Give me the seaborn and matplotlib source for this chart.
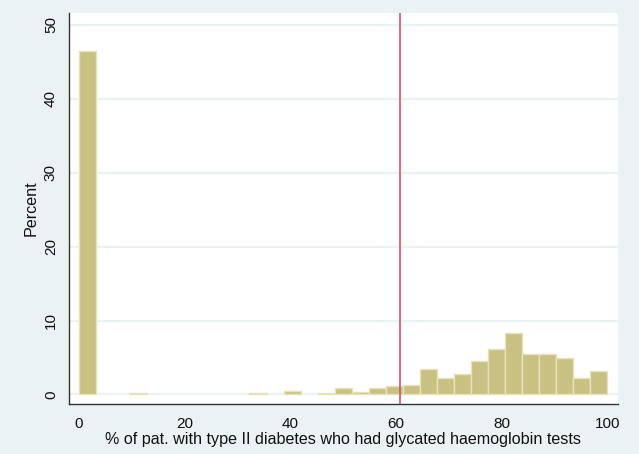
import numpy as np
import pandas as pd
import seaborn as sns
import matplotlib.pyplot as plt

# percent of practices per bin (31 equal bins from 0 to 100)
n_bins = 31
pct = [46.5, 0, 0, 0.2, 0, 0, 0, 0, 0, 0,
       0.2, 0, 0.4, 0, 0.2, 0.9, 0.37, 0.85, 1.08, 1.22,
       3.43, 2.17, 2.71, 4.56, 6.18, 8.26, 5.46, 5.46, 4.96, 2.17,
       3.11]
ref_line = 60.8
x_ticks = [0, 20, 40, 60, 80, 100]
y_ticks = [0, 10, 20, 30, 40, 50]

sns.set_style('white')
plt.rcParams['font.family'] = ['Liberation Sans', 'DejaVu Sans']

bg = '#EAF2F3'
fig = plt.figure(figsize=(6.39, 4.54), dpi=100, facecolor=bg)
ax = fig.add_axes([0.108, 0.110, 0.859, 0.861])
ax.set_facecolor('white')

width = 100 / n_bins
df = pd.DataFrame({'x': (np.arange(n_bins) + 0.5) * width, 'pct': pct})
sns.histplot(data=df, x='x', weights='pct', binwidth=width, binrange=(0, 100),
             stat='count', color='#C9C181', edgecolor='#E6E2BD', linewidth=1.0,
             alpha=1, ax=ax, zorder=2)
# empty bins draw nothing
for p in ax.patches:
    if p.get_height() == 0:
        p.set_visible(False)

ax.axvline(ref_line, color='#D6506F', lw=1.2, zorder=3)

ax.set_xlim(-1.9, 102.0)
ax.set_ylim(-1.3, 51.6)
ax.set_xticks(x_ticks)
ax.set_yticks(y_ticks)
ax.yaxis.grid(True, color=bg, lw=1.5, zorder=0)
ax.set_axisbelow(True)

for s in ['top', 'right']:
    ax.spines[s].set_visible(False)
for s in ['left', 'bottom']:
    ax.spines[s].set_color('#333333')
    ax.spines[s].set_linewidth(1.0)

ax.tick_params(axis='both', direction='out', length=5, width=1,
               color='#333333', labelsize=11, labelcolor='#111111', pad=3)
ax.tick_params(axis='x', pad=4)
plt.setp(ax.get_yticklabels(), rotation=90, va='center')

ax.set_xlabel('% of pat. with type II diabetes who had glycated haemoglobin tests',
              fontsize=11.6, color='#111111', labelpad=1)
ax.set_ylabel('Percent', fontsize=11.6, color='#111111', labelpad=4)

fig.savefig('out.png', dpi=100, facecolor=bg)
